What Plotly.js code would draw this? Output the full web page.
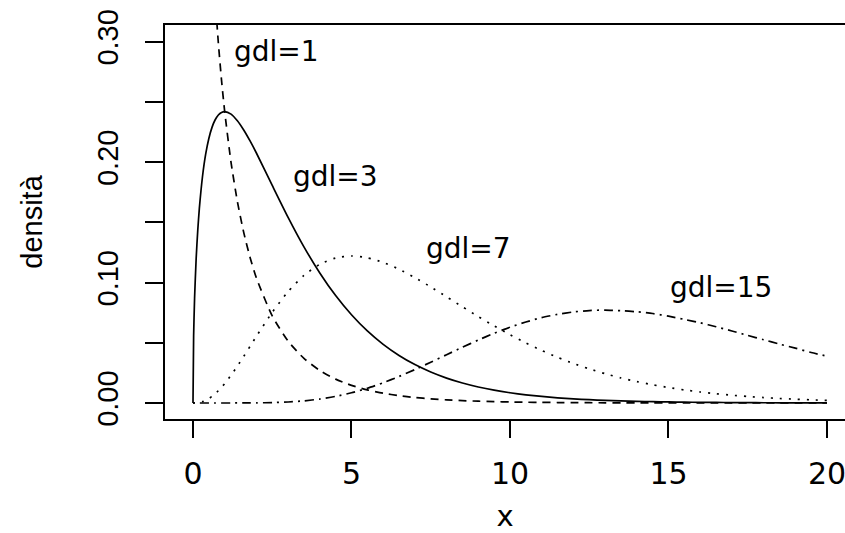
<!DOCTYPE html>
<html>
<head>
<meta charset="utf-8">
<script src="https://cdn.plot.ly/plotly-3.0.1.min.js"></script>
<style>html,body{margin:0;padding:0;background:#fff;}#chart{width:845px;height:533px;}</style>
</head>
<body>
<div id="chart"></div>
<script>
// x positions where the densities were read
var xs = [0, 0.02, 0.05, 0.1, 0.15, 0.2, 0.3, 0.4, 0.5, 0.6, 0.7, 0.8, 0.9, 1.0, 1.2, 1.4, 1.6, 1.8, 2.0,
  2.5, 3.0, 3.5, 4.0, 4.5, 5.0, 5.5, 6.0, 6.5, 7.0, 7.5, 8.0, 8.5, 9.0, 9.5, 10, 10.5, 11, 11.5, 12,
  12.5, 13, 13.5, 14, 14.5, 15, 15.5, 16, 16.5, 17, 17.5, 18, 18.5, 19, 19.5, 20];

// gdl=1
var gdl1 = [null, 2.793, 1.740, 1.200, 0.9556, 0.8072, 0.6269, 0.5164, 0.4394, 0.3815, 0.3360, 0.2990, 0.2681, 0.2420, 0.1999, 0.1674, 0.1417, 0.1209, 0.1038,
  0.07229, 0.05139, 0.03705, 0.02700, 0.01982, 0.01465, 0.01087, 0.008109, 0.006067, 0.004553, 0.003426, 0.002583, 0.001952, 0.001477, 0.001120, 0.000850, 0.000646, 0.000492, 0.000374, 0.000285,
  0.000218, 0.000166, 0.000127, 0.0000972, 0.0000744, 0.0000570, 0.0000436, 0.0000335, 0.0000257, 0.0000197, 0.0000151, 0.0000116, 0.0000089, 0.0000069, 0.0000053, 0.0000041];

// gdl=3
var gdl3 = [0, 0.05586, 0.0870, 0.1200, 0.1433, 0.1614, 0.1881, 0.2066, 0.2197, 0.2289, 0.2352, 0.2392, 0.2413, 0.2420, 0.2399, 0.2344, 0.2267, 0.2176, 0.2076,
  0.1807, 0.1542, 0.1297, 0.1080, 0.08919, 0.07325, 0.05979, 0.04865, 0.03944, 0.03187, 0.02570, 0.02066, 0.01659, 0.01329, 0.01064, 0.00850, 0.00678, 0.00541, 0.00430, 0.00342,
  0.00272, 0.00216, 0.00171, 0.00136, 0.00108, 0.000855, 0.000676, 0.000536, 0.000424, 0.000335, 0.000264, 0.000209, 0.000165, 0.000131, 0.000103, 0.000081];

// gdl=7
var gdl7 = [0, 0.0000015, 0.0000145, 0.00008, 0.000215, 0.00043, 0.001129, 0.002204, 0.003662, 0.005494, 0.007683, 0.010206, 0.01303, 0.01613, 0.02303, 0.03063, 0.03869, 0.04700, 0.05536,
  0.07529, 0.09252, 0.10592, 0.1152, 0.12041, 0.12208, 0.12058, 0.11676, 0.11109, 0.10411, 0.09638, 0.08815, 0.07991, 0.07177, 0.06402, 0.05667, 0.04983, 0.04364, 0.03791, 0.03283,
  0.02833, 0.02434, 0.02078, 0.01777, 0.01514, 0.01283, 0.01083, 0.00915, 0.00770, 0.00645, 0.00539, 0.00451, 0.00376, 0.00315, 0.00261, 0.00216];

// gdl=15
var gdl15 = [0, 0, 0, 0, 0, 0, 0, 0, 0, 0, 0, 0, 0.0000008, 0.0000018, 0.0000053, 0.0000131, 0.0000281, 0.0000548, 0.0000983,
  0.000326, 0.000832, 0.001764, 0.003274, 0.005481, 0.008469, 0.012247, 0.016797, 0.022012, 0.027747, 0.033849, 0.040078, 0.046302, 0.052268, 0.057882, 0.062904, 0.067232, 0.070920, 0.073598, 0.075565,
  0.076773, 0.077164, 0.076613, 0.075774, 0.074289, 0.072096, 0.069388, 0.066562, 0.063350, 0.059797, 0.056113, 0.052552, 0.048888, 0.045567, 0.041889, 0.038895];

var xTicks = [0, 5, 10, 15, 20];
var yTicks = [0, 0.05, 0.10, 0.15, 0.20, 0.25, 0.30];
var yTickText = ['0.00', '', '0.10', '', '0.20', '', '0.30'];

var labels = ['gdl=1', 'gdl=3', 'gdl=7', 'gdl=15'];
var labelX = [1.23, 3.09, 7.29, 14.98];
var labelY = [0.2915, 0.188, 0.128, 0.0963];

var series = [gdl1, gdl3, gdl7, gdl15];
var dashes = ['8px,6px', 'solid', '2px,7px', '2px,5px,9px,5px'];

var traces = series.map(function (ys, i) {
  return {
    x: xs, y: ys, type: 'scatter', mode: 'lines',
    line: {color: '#000', width: 1.7, dash: dashes[i], shape: 'spline', smoothing: 0.6},
    connectgaps: false, hoverinfo: 'skip', showlegend: false
  };
});

var annotations = labels.map(function (t, i) {
  return {
    x: labelX[i], y: labelY[i], xref: 'x', yref: 'y', text: t, showarrow: false,
    xanchor: 'left', yanchor: 'middle',
    font: {family: 'DejaVu Sans', size: 28, color: '#000'}
  };
});

var layout = {
  width: 845, height: 533,
  margin: {l: 165, r: 0, t: 25, b: 114, pad: 0},
  paper_bgcolor: '#fff', plot_bgcolor: '#fff',
  showlegend: false,
  xaxis: {
    range: [-0.883, 20.568], showgrid: false, zeroline: false,
    showline: true, linecolor: '#000', linewidth: 2, mirror: true,
    ticks: 'outside', ticklen: 17, tickwidth: 2, tickcolor: '#000',
    tickmode: 'array', tickvals: xTicks, ticktext: xTicks.map(String),
    tickfont: {family: 'DejaVu Sans', size: 30, color: '#000'},
    ticklabelstandoff: 10, ticklabeloverflow: 'allow',
    title: {text: 'x', font: {family: 'DejaVu Sans', size: 29, color: '#000'}, standoff: 20}
  },
  yaxis: {
    range: [-0.0133, 0.3139], showgrid: false, zeroline: false,
    showline: true, linecolor: '#000', linewidth: 2, mirror: false,
    ticks: 'outside', ticklen: 18, tickwidth: 2, tickcolor: '#000',
    tickmode: 'array', tickvals: yTicks, ticktext: yTickText,
    tickangle: -90,
    tickfont: {family: 'Liberation Sans', size: 29, color: '#000'},
    ticklabelstandoff: 15,
    title: {text: 'densità', font: {family: 'Liberation Sans', size: 29, color: '#000'}, standoff: 41}
  },
  annotations: annotations
};

Plotly.newPlot('chart', traces, layout, {displayModeBar: false, staticPlot: true});
</script>
</body>
</html>
